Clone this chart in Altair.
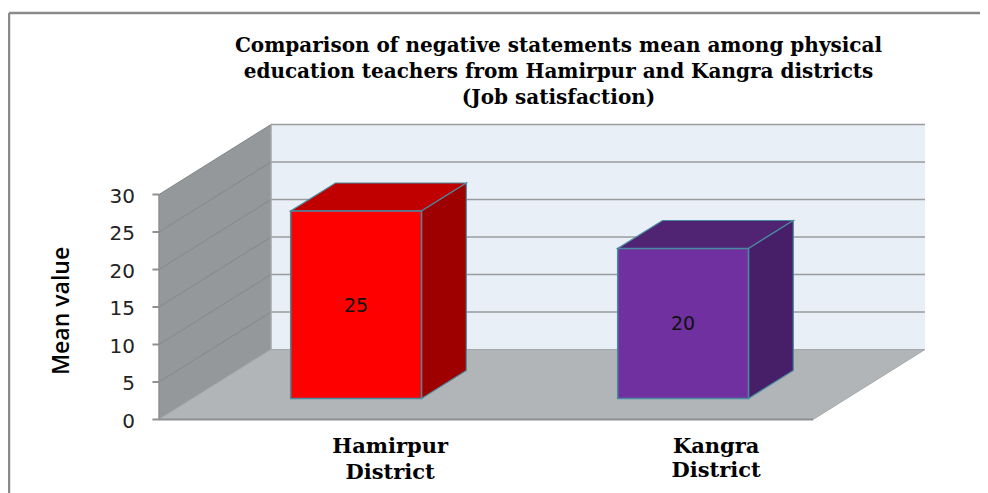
import altair as alt
import pandas as pd

categories = ["Hamirpur District", "Kangra District"]
values = [25, 20]
front_colors = ["#FF0000", "#7030A0"]
top_colors = ["#C00000", "#512373"]
side_colors = ["#9E0000", "#471F69"]
ticks = [0, 5, 10, 15, 20, 25, 30]
title_lines = [
    "Comparison of negative statements mean among physical",
    "education teachers from Hamirpur and Kangra districts",
    "(Job satisfaction)",
]

AXIS_MAX = 30
DX = 112 / 327        # depth of the 3D box in category units
DY = 70 / 7.5         # depth of the 3D box in value units
BAR_W = 0.4
D0, D1 = 0.3, 0.7     # bar extent along the depth axis
X_MIN, X_MAX = -0.4587, 2.5107
Y_MIN, Y_MAX = -9.8, 54.2

x_scale = alt.Scale(domain=[X_MIN, X_MAX], nice=False, zero=False)
y_scale = alt.Scale(domain=[Y_MIN, Y_MAX], nice=False, zero=False)
X = lambda f="x": alt.X(f"{f}:Q", scale=x_scale, axis=None)
Y = lambda f="y": alt.Y(f"{f}:Q", scale=y_scale, axis=None)


def face(rows, fill, stroke=None, width=1):
    df = pd.DataFrame(rows, columns=["x", "y", "y2"])
    kw = dict(stroke=stroke, strokeWidth=width) if stroke else {}
    return alt.Chart(df).mark_area(fill=fill, orient="vertical", **kw).encode(
        x=X(), y=Y(), y2=alt.Y2("y2:Q")
    )


def segment(x0, y0, x1, y1, color, width=1.5):
    df = pd.DataFrame({"x": [x0, x1], "y": [y0, y1]})
    return alt.Chart(df).mark_line(color=color, strokeWidth=width).encode(x=X(), y=Y())


def text(xs, ys, labels, **mark):
    df = pd.DataFrame({"x": xs, "y": ys, "t": labels})
    return alt.Chart(df).mark_text(baseline="middle", **mark).encode(x=X(), y=Y(), text="t:N")


# walls and floor
back = alt.Chart(pd.DataFrame({"x": [DX], "x2": [DX + 2], "y": [DY], "y2": [AXIS_MAX + DY]})).mark_rect(
    color="#E8EFF6"
).encode(x=X(), x2="x2:Q", y=Y(), y2="y2:Q")
left = face([(0, 0, AXIS_MAX), (DX, DY, AXIS_MAX + DY)], "#94989A")
floor = face([(0, 0, 0), (DX, 0, DY), (2, 0, DY), (2 + DX, DY, DY)], "#B1B5B8", "#A4A7AA", 1)

layers = [back, left, floor]

# outer frame of the picture (runs off the right and bottom edges)
layers.append(segment(X_MIN, Y_MAX, X_MAX, Y_MAX, "#8A8A8A", 2.5))
layers.append(segment(X_MIN, Y_MIN, X_MIN, Y_MAX, "#8A8A8A", 2.5))

# gridlines and the value axis drawn on the front corner of the box
for t in ticks[1:]:
    layers.append(segment(DX, t + DY, DX + 2, t + DY, "#9A9C9E", 1.5))
    layers.append(segment(0, t, DX, t + DY, "#84888A", 1))
for t in ticks:
    layers.append(segment(-0.02, t, 0, t, "#8E9092", 2))
layers.append(segment(0, 0, 2, 0, "#8E9092", 2))
layers.append(segment(0, 0, 0, AXIS_MAX, "#8E9092", 1.5))
layers.append(segment(DX, DY, DX, AXIS_MAX + DY, "#A4A6A8", 1.5))
layers.append(text([-0.0734] * len(ticks), [t - 0.27 for t in ticks], [str(t) for t in ticks],
                   font="DejaVu Sans", fontSize=20, color="#222222", align="right"))
layers.append(text([-0.2966], [14.47], ["Mean value"], font="Open Sans", fontWeight=600, fontSize=23,
                   color="#000000", angle=270))

# bars
EDGE = "#4A8AA0"
for i, v in enumerate(values):
    xl = i + 0.5 - BAR_W / 2 + D0 * DX
    xr = xl + BAR_W
    ddx = (D1 - D0) * DX
    b0 = D0 * DY
    ddy = (D1 - D0) * DY
    t = b0 + v
    layers.append(face([(xl, t, t), (xl + ddx, t, t + ddy), (xr, t, t + ddy), (xr + ddx, t + ddy, t + ddy)],
                       top_colors[i], EDGE, 1.2))
    layers.append(face([(xr, b0, t), (xr + ddx, b0 + ddy, t + ddy)], side_colors[i], EDGE, 1.2))
    df = pd.DataFrame({"x": [xl], "x2": [xr], "y": [b0], "y2": [t]})
    layers.append(alt.Chart(df).mark_rect(fill=front_colors[i], stroke=EDGE, strokeWidth=1.5).encode(
        x=X(), x2="x2:Q", y=Y(), y2="y2:Q"))
    layers.append(text([(xl + xr) / 2], [b0 + v / 2 - 0.1], [str(v)],
                       font="DejaVu Sans", fontSize=19, color="#111111"))

    # category label
    name = categories[i].split(" ")
    lab_x = [0.707, 1.704][i]
    lab_y = [[-3.7, -7.1], [-3.7, -6.8]][i]
    layers.append(text([lab_x] * 2, lab_y, name, font="DejaVu Serif", fontWeight="bold", fontSize=21, color="#000000"))

chart = (
    alt.layer(*layers)
    .properties(
        width=971,
        height=480,
        padding={"left": 1, "top": 5, "right": 0, "bottom": 0},
        autosize=alt.AutoSizeParams(type="none"),
        title=alt.TitleParams(
            text=title_lines,
            anchor="middle",
            frame="group",
            font="DejaVu Serif",
            fontWeight="bold",
            fontSize=20,
            lineHeight=26,
            color="#000000",
            dx=64,
            dy=104,
        ),
        background="#FFFFFF",
    )
    .configure_view(stroke=None)
)

chart.save("out.html", embed_options={"renderer": "svg", "actions": False})
